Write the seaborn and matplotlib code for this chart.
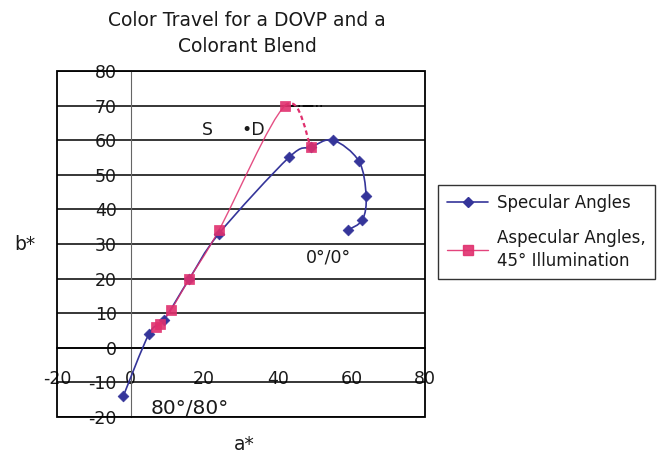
import matplotlib
matplotlib.use("Agg")
import matplotlib.pyplot as plt
import seaborn as sns
import pandas as pd
import numpy as np
from matplotlib.lines import Line2D
from matplotlib.patches import Rectangle, PathPatch
from matplotlib.path import Path

# ---- data ----
spec_a = [-2, 5, 9, 16, 24, 43, 49, 55, 62, 64, 63, 59]
spec_b = [-14, 4, 8, 20, 33, 55, 58, 60, 54, 44, 37, 34]
asp_a = [7, 8, 11, 16, 24, 42, 49]
asp_b = [6, 7, 11, 20, 34, 70, 58]
y_ticks = [-20, -10, 0, 10, 20, 30, 40, 50, 60, 70, 80]
x_ticks = [-20, 0, 20, 40, 60, 80]
series_names = ["Specular Angles", "Aspecular Angles,\n45° Illumination"]
title = "Color Travel for a DOVP and a\nColorant Blend"
note_line_a = [42, 52]
note_line_b = [70, 70]

BLUE = "#35359a"
PINK = "#e0306e"

sns.set_theme(style="white")
plt.rcParams["font.family"] = ["DejaVu Sans"]

fig = plt.figure(figsize=(6.59, 4.58), dpi=100)
ax = fig.add_axes([57 / 659, 1 - 417 / 458, 368 / 659, 346 / 458])
ax.set_facecolor("white")


def smooth_path(xs, ys, i0, i1):
    """Excel-like smoothed (Catmull-Rom Bezier) path through points i0..i1."""
    P = np.column_stack([xs, ys]).astype(float)
    n = len(P)
    verts = [P[i0]]
    codes = [Path.MOVETO]
    for i in range(i0, i1):
        p0 = P[max(i - 1, 0)]
        p1 = P[i]
        p2 = P[i + 1]
        p3 = P[min(i + 2, n - 1)]
        c1 = p1 + (p2 - p0) / 6.0
        c2 = p2 - (p3 - p1) / 6.0
        verts += [c1, c2, p2]
        codes += [Path.CURVE4] * 3
    return Path(verts, codes)


spec = pd.DataFrame({"a": spec_a, "b": spec_b})
asp = pd.DataFrame({"a": asp_a, "b": asp_b})

# smoothed lines
ax.add_patch(PathPatch(smooth_path(spec_a, spec_b, 0, len(spec_a) - 1),
                       fill=False, edgecolor=BLUE, lw=1.2, zorder=3))
ax.add_patch(PathPatch(smooth_path(asp_a, asp_b, 0, len(asp_a) - 2),
                       fill=False, edgecolor=PINK, lw=1.0, zorder=3, alpha=0.85))
ax.add_patch(PathPatch(smooth_path(asp_a, asp_b, len(asp_a) - 2, len(asp_a) - 1),
                       fill=False, edgecolor=PINK, lw=1.6, ls=(0, (2, 1.5)),
                       zorder=3))
ax.plot(note_line_a, note_line_b, color="black", lw=1.2, ls="-.", zorder=2)

# markers
sns.scatterplot(data=spec, x="a", y="b", ax=ax, color=BLUE, marker="D",
                s=30, edgecolor=BLUE, linewidth=0.5, zorder=4)
sns.scatterplot(data=asp, x="a", y="b", ax=ax, color=PINK, marker="s",
                s=48, edgecolor=PINK, linewidth=0.5, zorder=5, alpha=0.9)

ax.set_xlim(-20, 80)
ax.set_ylim(-20, 80)

# Excel-style axes crossing at zero
for s in ["top", "right"]:
    ax.spines[s].set_visible(False)
ax.spines["left"].set_position(("data", 0))
ax.spines["bottom"].set_position(("data", 0))
ax.spines["left"].set_color("#666666")
ax.spines["left"].set_linewidth(0.8)
ax.spines["bottom"].set_color("black")
ax.spines["bottom"].set_linewidth(1.2)
ax.add_patch(Rectangle((0, 0), 1, 1, transform=ax.transAxes, fill=False,
                       edgecolor="black", lw=1.3, clip_on=False, zorder=6))

ax.set_yticks(y_ticks)
ax.set_xticks(x_ticks)
ax.set_yticklabels([str(v) for v in y_ticks])
ax.set_xticklabels([str(v) for v in x_ticks])
ax.tick_params(axis="both", labelsize=12.5, colors="#1a1a1a", length=0)
ax.tick_params(axis="y", pad=10)
ax.tick_params(axis="x", pad=16)
ax.yaxis.grid(True, color="black", lw=1.1)
ax.xaxis.grid(False)
ax.set_axisbelow(True)

ax.set_xlabel("")
ax.set_ylabel("")
fig.text(25 / 659, 1 - 245 / 458, "b*", fontsize=13.5, ha="center", va="center",
         color="#1a1a1a")
fig.text(244 / 659, 1 - 445 / 458, "a*", fontsize=13.5, ha="center", va="center",
         color="#1a1a1a")
fig.text(247 / 659, 1 - 33.5 / 458, title, fontsize=13.5, ha="center",
         va="center", linespacing=1.45, color="#1a1a1a")

ax.text(47.5, 26, "0°/0°", fontsize=12.5, ha="left", va="center", color="#1a1a1a")
ax.text(5.5, -17.5, "80°/80°", fontsize=14.5, ha="left", va="center",
        color="#1a1a1a")
ax.text(19.5, 63, "S", fontsize=12.5, ha="left", va="center", color="#1a1a1a")
ax.text(30, 63, "•D", fontsize=12.5, ha="left", va="center", color="#1a1a1a")

handles = [
    Line2D([0], [0], color=BLUE, lw=1.2, marker="D", markersize=5.5),
    Line2D([0], [0], color=PINK, lw=1.0, marker="s", markersize=6.5, alpha=0.9),
]
leg = fig.legend(handles, series_names, loc="upper left",
                 bbox_to_anchor=(438 / 659, 1 - 185 / 458),
                 borderaxespad=0,
                 frameon=True, fancybox=False, edgecolor="black",
                 fontsize=12, handlelength=2.45, borderpad=0.55,
                 labelspacing=1.0, handletextpad=0.55)
leg.get_frame().set_linewidth(1.0)
for t in leg.get_texts():
    t.set_linespacing(1.35)
    t.set_color("#1a1a1a")

fig.savefig("out.png", dpi=100, facecolor="white")
